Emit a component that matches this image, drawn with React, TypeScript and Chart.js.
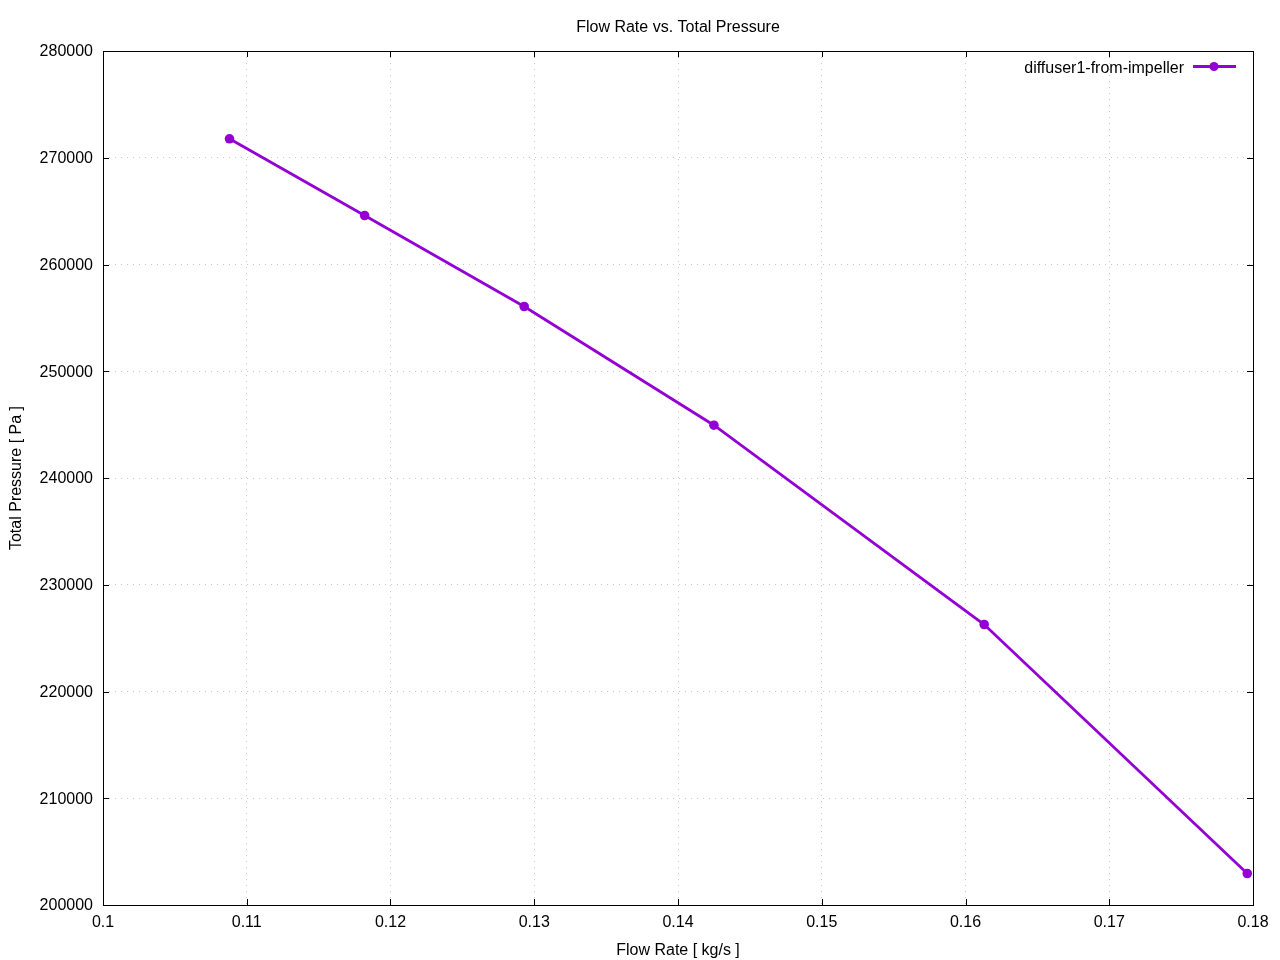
import React, { useEffect, useRef } from "react";
import { Chart, registerables } from "chart.js";

Chart.register(...registerables);

const flowRate = [0.1088, 0.1182, 0.1293, 0.1425, 0.1613, 0.1796];
const totalPressure = [271775, 264590, 256066, 244946, 226276, 202951];
const seriesLabel = "diffuser1-from-impeller";
const chartTitle = "Flow Rate vs. Total Pressure";
const xTitle = "Flow Rate [ kg/s ]";
const yTitle = "Total Pressure [ Pa ]";

const FONT = "'Liberation Sans', Arial, sans-serif";
const COLOR = "#9400d3";

const framePlugin = {
  id: "gnuFrame",
  afterDatasetsDraw(chart: any) {
    const { ctx, chartArea: a, scales } = chart;
    ctx.save();
    ctx.strokeStyle = "#000";
    ctx.lineWidth = 1;
    const tl = 6;
    ctx.beginPath();
    for (const t of scales.x.ticks) {
      const px = Math.round(scales.x.getPixelForValue(t.value)) + 0.5;
      ctx.moveTo(px, a.bottom);
      ctx.lineTo(px, a.bottom - tl);
      ctx.moveTo(px, a.top);
      ctx.lineTo(px, a.top + tl);
    }
    for (const t of scales.y.ticks) {
      const py = Math.round(scales.y.getPixelForValue(t.value)) + 0.5;
      ctx.moveTo(a.left, py);
      ctx.lineTo(a.left + tl, py);
      ctx.moveTo(a.right, py);
      ctx.lineTo(a.right - tl, py);
    }
    ctx.stroke();
    ctx.strokeRect(Math.round(a.left) + 0.5, Math.round(a.top) + 0.5, Math.round(a.right - a.left), Math.round(a.bottom - a.top));

    // title
    ctx.font = `16px ${FONT}`;
    ctx.fillStyle = "#000";
    ctx.textAlign = "center";
    ctx.textBaseline = "alphabetic";
    ctx.fillText(chartTitle, (a.left + a.right) / 2, 31.5);

    // legend
    const ly = a.top + 15.5;
    ctx.textAlign = "right";
    ctx.fillText(seriesLabel, a.right - 69, a.top + 21.5);
    ctx.strokeStyle = COLOR;
    ctx.lineWidth = 2.8;
    ctx.beginPath();
    ctx.moveTo(a.right - 60, ly);
    ctx.lineTo(a.right - 17, ly);
    ctx.stroke();
    ctx.fillStyle = COLOR;
    ctx.beginPath();
    ctx.arc(a.right - 39, ly, 4.5, 0, Math.PI * 2);
    ctx.fill();
    ctx.restore();
  },
};

export default function App() {
  const ref = useRef<HTMLCanvasElement>(null);
  useEffect(() => {
    const chart = new Chart(ref.current!, {
      type: "line",
      data: {
        datasets: [
          {
            label: seriesLabel,
            data: flowRate.map((x, i) => ({ x, y: totalPressure[i] })),
            borderColor: COLOR,
            backgroundColor: COLOR,
            borderWidth: 2.8,
            pointRadius: 4.8,
            pointBorderWidth: 0,
            pointBackgroundColor: COLOR,
            tension: 0,
          },
        ],
      },
      plugins: [framePlugin],
      options: {
        responsive: false,
        animation: false,
        layout: { padding: { left: 0, right: 27, top: 51, bottom: 0 } },
        plugins: {
          legend: { display: false },
          tooltip: { enabled: false },
          title: { display: false },
        },
        scales: {
          x: {
            type: "linear",
            min: 0.1,
            max: 0.18,
            afterFit: (s: any) => {
              s.height = 55;
            },
            ticks: {
              stepSize: 0.01,
              color: "#000",
              padding: 8,
              maxRotation: 0,
              font: { family: FONT, size: 16 },
              callback: (v: any) => String(+Number(v).toFixed(2)),
            },
            grid: { color: "#c8c8c8", drawTicks: false, lineWidth: 1 },
            border: { display: false, dash: [1, 5] },
            title: {
              display: true,
              text: xTitle,
              color: "#000",
              font: { family: FONT, size: 16 },
              padding: { top: 0, bottom: -0.6 },
            },
          },
          y: {
            type: "linear",
            min: 200000,
            max: 280000,
            afterFit: (s: any) => {
              s.width = 103;
            },
            ticks: {
              stepSize: 10000,
              color: "#000",
              padding: 10,
              labelOffset: 1,
              font: { family: FONT, size: 16 },
              callback: (v: any) => String(v),
            },
            grid: { color: "#c8c8c8", drawTicks: false, lineWidth: 1 },
            border: { display: false, dash: [1, 5] },
            title: {
              display: true,
              text: yTitle,
              color: "#000",
              font: { family: FONT, size: 16 },
              padding: { top: 7.4, bottom: 0 },
            },
          },
        },
      },
    } as any);
    return () => chart.destroy();
  }, []);
  return (
    <div style={{ position: "absolute", left: 0, top: 0, width: 1280, height: 960, background: "#fff" }}>
      <canvas ref={ref} width={1280} height={960} />
    </div>
  );
}
